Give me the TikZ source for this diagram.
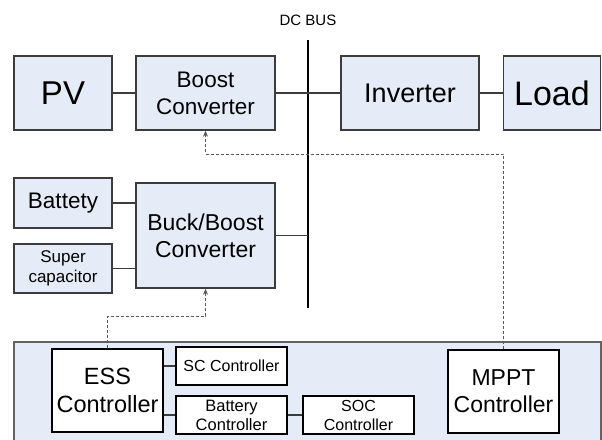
\documentclass[tikz,border=0pt]{standalone}
\usepackage{fontspec}
\setmainfont{Liberation Sans}
\usetikzlibrary{arrows.meta}
\definecolor{blockfill}{HTML}{E6ECF7}
\definecolor{edgegray}{HTML}{3C3C3C}
\newcommand{\fsz}[2]{\fontsize{#1}{#2}\selectfont}
\tikzset{
	blk/.style={draw=edgegray, line width=1.4pt, fill=blockfill, inner sep=0pt, align=center},
	ctrl/.style={draw=black, line width=1.2pt, fill=white, inner sep=0pt, align=center},
	wire/.style={line width=1.4pt, draw=edgegray},
	sig/.style={line width=0.9pt, draw=gray!70!black, dash pattern=on 3pt off 2pt, -{Stealth[length=6pt,width=5pt]}},
}

\begin{document}
\begin{tikzpicture}[x=1pt, y=-1pt]
			%%%%% START %%%%%
			\useasboundingbox (0, 0) rectangle (602, 439);
			
			% controller panel
			\draw[fill=blockfill, draw=edgegray!80, line width=1.2pt] (14, 342) rectangle (601, 445);
			
			% DC bus
			\node[font=\fsz{15}{18}] (buslbl) at (308, 20) {DC BUS};
			\coordinate (bustop) at (308, 40);
			\coordinate (busbot) at (308, 308);
			\draw[line width=2.6pt] (bustop) -- (busbot);
			
			% top row
			\node[blk, minimum width=98, minimum height=74, font=\fsz{33}{36}] (pv) at (63, 93) {PV};
			\node[blk, minimum width=139, minimum height=74, font=\fsz{22.5}{27}] (boost) at (205.5, 93) {Boost\\Converter};
			\node[blk, minimum width=138, minimum height=74, font=\fsz{27}{30}] (inv) at (410, 93) {Inverter};
			\node[blk, minimum width=97, minimum height=74, font=\fsz{34}{38}] (load) at (552, 93) {Load};
			
			\draw[wire] (pv) -- (boost);
			\draw[wire] (boost) -- (inv);
			\draw[wire] (inv) -- (load);
			
			% storage
			\node[blk, minimum width=98, minimum height=50, font=\fsz{22.5}{27}] (bat) at (63, 203) {Battety};
			\node[blk, minimum width=98, minimum height=49, font=\fsz{17}{20}] (sc) at (63, 268.5) {Super\\capacitor};
			\node[blk, minimum width=139, minimum height=105, font=\fsz{23}{27}] (buck) at (205.5, 235.5) {Buck/Boost\\Converter};
			
			\draw[wire] (bat) -- (bat -| buck.west);
			\draw[wire] (sc) -- (sc -| buck.west);
			\draw[wire] (buck) -- (buck -| bustop);
			
			% controllers
			\node[ctrl, minimum width=111, minimum height=83, font=\fsz{23.5}{28}] (ess) at (107.5, 390.5) {ESS\\Controller};
			\node[ctrl, minimum width=111, minimum height=38, font=\fsz{16}{19}] (scc) at (231.5, 366) {SC Controller};
			\node[ctrl, minimum width=111, minimum height=38, font=\fsz{16.5}{19}] (batc) at (231.5, 415) {Battery\\Controller};
			\node[ctrl, minimum width=111, minimum height=38, font=\fsz{16}{19}] (soc) at (358.5, 415) {SOC\\Controller};
			\node[ctrl, minimum width=111, minimum height=83, font=\fsz{23}{27}] (mppt) at (503.5, 391.5) {MPPT\\Controller};
			
			\draw[wire, line width=1.1pt] (ess.east |- scc) -- (scc);
			\draw[wire, line width=1.1pt] (ess.east |- batc) -- (batc);
			\draw[wire, line width=1.1pt] (batc) -- (soc);
			
			% control signals
			\draw[sig] (mppt.north) -- ++(0, -195) -| (boost.south);
			\draw[sig] (ess.north) -- ++(0, -32) -| (buck.south);
			
			%%%%% END %%%%%
\end{tikzpicture}
\end{document}
